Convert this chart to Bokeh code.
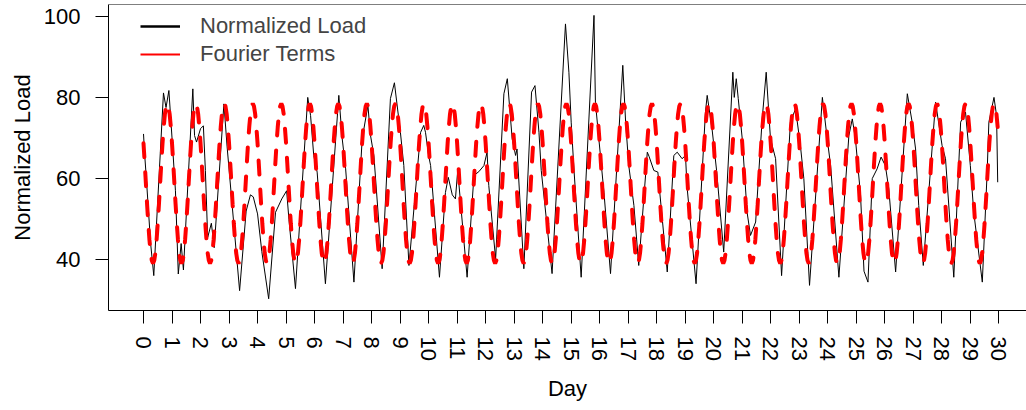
import numpy as np
from bokeh.plotting import figure
from bokeh.models import Range1d, FixedTicker, Legend, LegendItem, Span, Title
from bokeh.embed import file_html
from bokeh.resources import INLINE

# ---- data ----
load_day = [0.00, 0.04, 0.10, 0.25, 0.36, 0.70, 0.79, 0.89, 1.00, 1.12, 1.22, 1.32, 1.40,
            1.73, 1.79, 1.86, 2.00, 2.10, 2.17, 2.25, 2.38, 2.48, 2.82, 2.93, 3.11, 3.37,
            3.60, 3.75, 3.85, 4.00, 4.15, 4.39, 4.63, 4.85, 5.02, 5.10, 5.33, 5.76, 5.86,
            5.97, 6.09, 6.38, 6.85, 6.97, 7.09, 7.38, 7.67, 7.87, 7.96, 8.08, 8.37, 8.66,
            8.80, 9.01, 9.13, 9.31, 9.72, 9.83, 9.89, 10.00, 10.07, 10.38, 10.59, 10.69,
            10.83, 10.94, 11.02, 11.35, 11.59, 11.76, 11.94, 12.05, 12.11, 12.35, 12.64,
            12.76, 12.93, 13.05, 13.10, 13.34, 13.61, 13.73, 13.87, 13.95, 14.33, 14.80,
            14.92, 15.00, 15.10, 15.35, 15.80, 15.85, 15.97, 16.15, 16.38, 16.81, 16.91,
            17.02, 17.20, 17.37, 17.67, 17.73, 17.90, 18.04, 18.37, 18.60, 18.72, 18.89,
            19.01, 19.06, 19.38, 19.71, 19.77, 19.94, 20.10, 20.35, 20.67, 20.72, 20.79,
            20.86, 21.00, 21.17, 21.29, 21.47, 21.70, 21.84, 21.99, 22.17, 22.38, 22.69,
            22.87, 23.04, 23.16, 23.36, 23.81, 23.98, 24.10, 24.39, 24.74, 24.86, 24.97,
            25.15, 25.27, 25.41, 25.56, 25.73, 25.87, 26.02, 26.14, 26.38, 26.79, 26.96,
            27.08, 27.19, 27.35, 27.78, 28.01, 28.13, 28.42, 28.66, 28.83, 29.00, 29.12,
            29.42, 29.59, 29.65, 29.83, 29.92, 29.96]
load_value = [71.0, 66.0, 60.0, 44.0, 36.1, 81.1, 77.5, 81.7, 70.0, 57.0, 36.5, 44.0, 37.5,
              82.1, 70.6, 69.0, 72.3, 73.0, 62.0, 45.5, 49.0, 43.0, 78.4, 68.0, 53.4, 32.4,
              52.0, 56.0, 55.5, 51.3, 42.0, 30.4, 51.7, 55.0, 57.0, 50.0, 32.9, 80.0, 75.5,
              65.7, 61.6, 34.1, 80.5, 69.8, 62.4, 34.5, 69.8, 78.0, 70.7, 65.7, 37.8, 79.7,
              83.6, 71.4, 63.2, 38.6, 71.4, 73.1, 71.4, 65.7, 63.2, 35.7, 56.6, 60.3,
              56.0, 55.0, 62.0, 35.7, 60.8, 61.7, 63.2, 66.5, 58.3, 40.2, 80.9,
              84.6, 69.8, 65.7, 67.3, 37.8, 81.3, 82.9, 71.4, 62.0, 36.6, 98.1,
              86.2, 73.9, 62.0, 35.7, 100.2, 78.8, 69.8, 56.6, 36.6, 87.9, 73.9,
              63.2, 53.4, 38.6, 66.5, 65.5, 62.0, 61.6, 37.0, 65.7, 66.5, 64.9,
              65.7, 58.3, 34.1, 76.4, 80.5, 72.3, 62.0, 41.9, 86.2, 80.0, 84.6,
              79.7, 69.8, 51.7, 46.0, 49.3, 74.7, 86.2, 69.8, 64.9, 36.1, 73.9,
              77.2, 68.1, 60.0, 33.7, 80.0, 69.8, 63.2, 35.7, 70.6, 74.7, 69.8,
              55.8, 37.2, 34.5, 60.0, 62.4, 65.3, 63.2, 57.5, 37.0, 80.9, 73.9,
              67.3, 53.4, 38.6, 78.8, 68.1, 64.9, 35.7, 73.9, 76.4, 63.2, 51.7,
              34.5, 61.6, 73.9, 80.0, 75.5, 59.1]

# hourly profile of the fitted Fourier terms (same every day)
fourier_hour_profile = [68.7, 63.9, 58.8, 53.7, 49.0, 44.9, 41.7, 39.8, 39.1, 39.8, 41.7, 44.9,
                        49.0, 53.7, 58.8, 63.9, 68.7, 72.7, 75.9, 77.8, 78.5, 77.8, 75.9, 72.7]
n_days = 30
day_ticks = list(range(0, 31))
value_ticks = [40, 60, 80, 100]

fourier_day = [d + h / 24 for d in range(n_days) for h in range(24)]
fourier_value = fourier_hour_profile * n_days

FONT = "Liberation Sans"
FS = "22px"

Y_TOP = 102.88
p = figure(width=1026, height=410,
           x_range=Range1d(-1.228, 30.97), y_range=Range1d(27.51, Y_TOP),
           output_backend="svg", toolbar_location=None,
           min_border_left=108, min_border_right=0, min_border_top=4, min_border_bottom=100)
p.outline_line_color = None
p.grid.visible = False
p.background_fill_color = "white"

for ax in (p.xaxis[0], p.yaxis[0]):
    ax.axis_line_color = "black"
    ax.axis_line_width = 1
    ax.major_tick_line_color = "black"
    ax.major_tick_out = 13
    ax.major_tick_in = 0
    ax.minor_tick_out = 0
    ax.minor_tick_in = 0
    ax.major_label_text_font = FONT
    ax.major_label_text_font_size = FS
    ax.major_label_text_color = "black"

p.xaxis.ticker = FixedTicker(ticks=day_ticks)
p.xaxis.major_label_orientation = "vertical"
p.xaxis.major_label_standoff = 13

p.yaxis.ticker = FixedTicker(ticks=value_ticks)
p.yaxis.major_label_standoff = 15
p.yaxis.axis_label = "Normalized Load"
p.yaxis.axis_label_text_font = FONT
p.yaxis.axis_label_text_font_size = FS
p.yaxis.axis_label_text_font_style = "normal"
p.yaxis.axis_label_text_color = "black"
p.yaxis.axis_label_standoff = 6

# top edge of the box (the right edge is outside the picture)
p.add_layout(Span(location=Y_TOP, dimension="width", line_color="black", line_width=1))

# x-axis title, centred on the full (cropped) plot box
p.add_layout(Title(text="Day", align="center", offset=8, standoff=20,
                   text_font=FONT, text_font_size=FS, text_font_style="normal",
                   text_color="black"), "below")

p.line(load_day, load_value, line_color="black", line_width=1)
p.line(fourier_day, fourier_value, line_color="red", line_width=4,
       line_dash="14 15", line_cap="round")

# legend keys: same series drawn on a range that lies outside the frame
p.extra_x_ranges = {"legend_only": Range1d(1000, 1001)}
r1 = p.line(load_day, load_value, x_range_name="legend_only", line_color="black", line_width=2.5)
r2 = p.line(fourier_day, fourier_value, x_range_name="legend_only", line_color="red", line_width=2.2)
legend = Legend(items=[LegendItem(label="Normalized Load", renderers=[r1]),
                       LegendItem(label="Fourier Terms", renderers=[r2])],
                location=(32, 242), glyph_width=40, glyph_height=28, label_height=28,
                label_standoff=20, padding=0, spacing=0, margin=0,
                border_line_color=None, background_fill_alpha=0,
                label_text_font=FONT, label_text_font_size=FS)
p.add_layout(legend)

open("out.html", "w").write(file_html(p, INLINE))
